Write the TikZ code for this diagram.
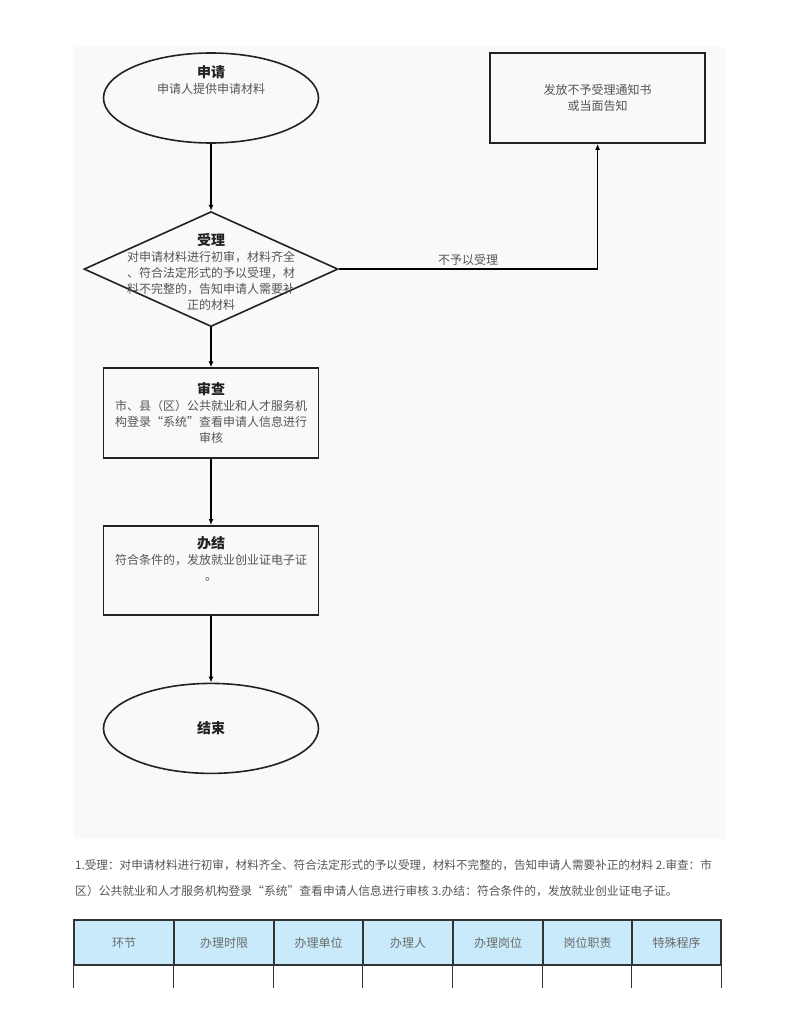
\documentclass[tikz,border=0pt]{standalone}
\usepackage{fontspec}
\newfontfamily\cjk{Noto Sans CJK SC}
\usepackage{tikz}
\usetikzlibrary{positioning, arrows.meta, shapes.geometric}

\definecolor{panelgray}{HTML}{F9F9F9}
\definecolor{linegray}{HTML}{222222}
\definecolor{textgray}{HTML}{555555}
\definecolor{titlegray}{HTML}{222222}
\definecolor{headblue}{HTML}{C8EAFA}
\definecolor{gridgray}{HTML}{333333}

\newcommand\steptitle[1]{{\fontsize{14}{16}\selectfont\bfseries\color{titlegray}#1}}

\begin{document}
\begin{tikzpicture}[
    x=1pt, y=-1pt,
    font=\cjk\fontsize{12}{16}\selectfont,
    node distance=67pt and 170pt,
    terminal/.style={draw=linegray, ellipse, line width=1.6pt, minimum width=215pt, minimum height=90pt, inner sep=0pt, align=center, text=textgray},
    decision/.style={draw=linegray, diamond, line width=1.6pt, minimum width=254pt, minimum height=115pt, inner sep=0pt},
    box/.style={draw=linegray, line width=1.6pt, minimum width=215pt, minimum height=90pt, inner sep=0pt, align=center, text=textgray},
    txt/.style={align=center, text=textgray, inner sep=0pt},
    headcell/.style={draw=gridgray, line width=1.2pt, fill=headblue, minimum height=45pt, inner sep=0pt, text=gray!85!black},
    arr/.style={-{Latex[length=6pt, width=5pt]}, line width=1.3pt}
  ]
    \useasboundingbox (0,0) rectangle (800,1035);
    \fill[panelgray] (73,47) rectangle (726,839);

    % flow chart
    \node[terminal, label={[txt, yshift=18pt]center:{\steptitle{申请}\\申请人提供申请材料}}] (apply) at (211,98) {};
    \node[decision, below=67pt of apply, label={[txt, yshift=-3pt]center:{\steptitle{受理}\\对申请材料进行初审，材料齐全\\、符合法定形式的予以受理，材\\料不完整的，告知申请人需要补\\正的材料}}] (accept) {};
    \node[box, right=170pt of apply] (notice) {发放不予受理通知书\\或当面告知};
    \node[box, below=40pt of accept] (review) {\steptitle{审查}\\市、县（区）公共就业和人才服务机\\构登录“系统”查看申请人信息进行\\审核};
    \node[box, below=66pt of review, minimum height=89pt, label={[txt, yshift=11.5pt]center:{\steptitle{办结}\\符合条件的，发放就业创业证电子证\\。}}] (finish) {};
    \node[terminal, below=67pt of finish] (stop) {\steptitle{结束}};

    \draw[arr] (apply)--(accept);
    \draw[arr] (accept)--(review);
    \draw[arr] (review)--(finish);
    \draw[arr] (finish)--(stop);
    \draw[arr] (accept.east) -| node[pos=0.25, above, inner sep=3pt, text=textgray] (refuse) {不予以受理} (notice.south);

    % notes below the chart
    \node[anchor=west, inner sep=0pt, text=textgray, font=\cjk\fontsize{11.6}{16}\selectfont] (note1) at (75,865) {1.受理：对申请材料进行初审，材料齐全、符合法定形式的予以受理，材料不完整的，告知申请人需要补正的材料 2.审查：市};
    \node[anchor=west, inner sep=0pt, text=textgray, font=\cjk\fontsize{11.8}{16}\selectfont] (note2) at (75,891) {区）公共就业和人才服务机构登录“系统”查看申请人信息进行审核 3.办结：符合条件的，发放就业创业证电子证。};

    % table head
    \foreach \l/\r/\name [count=\i] in {74/174/环节, 174/274/办理时限, 274/363/办理单位, 363/453/办理人, 453/543/办理岗位, 543/632/岗位职责, 632/721/特殊程序}{
      \node[headcell, minimum width={(\r-\l)*1pt}] (head\i) at ({(\l+\r)/2},942.5) {\name};
      \draw[gridgray, line width=1.2pt] (head\i.south west) -- ++(0,22);
    }
    \draw[gridgray, line width=1.2pt] (head7.south east) -- ++(0,22);
  \end{tikzpicture}
\end{document}
